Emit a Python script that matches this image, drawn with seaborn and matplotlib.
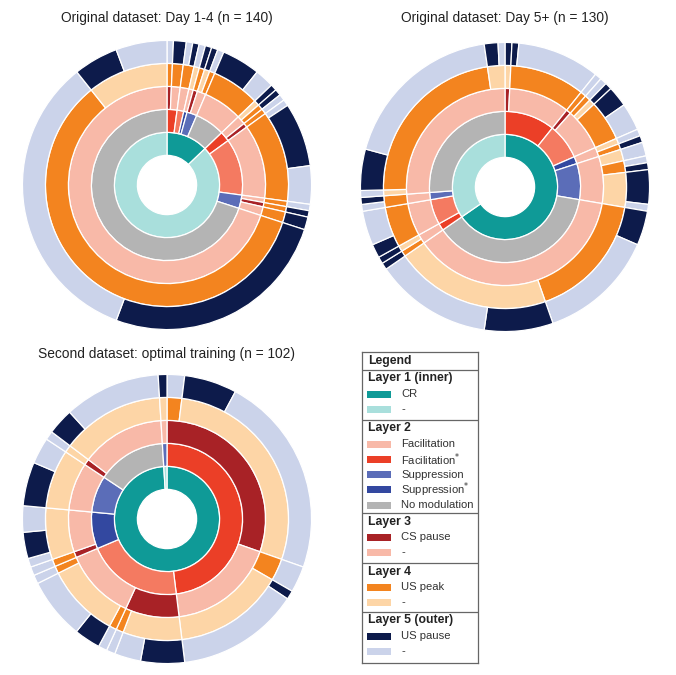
import pandas as pd
import matplotlib
matplotlib.use('Agg')
import matplotlib.pyplot as plt
import seaborn as sns

sns.set_theme(style='white')
plt.rcParams['font.family'] = ['Liberation Sans', 'DejaVu Sans']

# --- DATA: one entry per group of cells, clockwise from 12 o'clock ---
# layer 1 = CR, layer 2 = modulation, layer 3 = CS pause, layer 4 = US peak, layer 5 = US pause

# Original dataset, day 1-4 (n = 140)
d14_n     = [1, 2, 1, 1, 1, 1, 1, 1, 6, 3,
             1, 1, 1, 1, 10, 6, 1, 1, 2, 36, 47, 7, 8]
d14_cr    = ['CR'] * 10 + ['-'] * 13
d14_mod   = ['Fac*', 'Fac*', 'Fac', 'Fac', 'Sup*', 'Sup', 'Sup', 'Sup', 'None', 'None',
             'Fac*', 'Fac*', 'Fac*', 'Fac', 'Fac', 'Fac', 'Sup', 'Sup', 'Sup', 'None', 'None', 'None', 'None']
d14_cs    = ['CS', '-', '-', '-', '-', 'CS', '-', '-', '-', '-',
             '-', '-', 'CS', '-', '-', '-', '-', 'CS', '-', '-', '-', '-', '-']
d14_peak  = ['Peak', 'Peak', 'Peak', 'Peak', '-', 'Peak', '-', 'Peak', 'Peak', 'Peak',
             '-', 'Peak', 'Peak', 'Peak', 'Peak', 'Peak', 'Peak', 'Peak', 'Peak', 'Peak', 'Peak', '-', '-']
d14_pause = ['-', 'Pause', '-', 'Pause', '-', 'Pause', 'Pause', '-', 'Pause', '-',
             'Pause', 'Pause', '-', '-', 'Pause', '-', '-', 'Pause', 'Pause', 'Pause', '-', 'Pause', '-']

# Original dataset, day 5+ (n = 130)
d5_n     = [1, 1, 12, 1, 1, 1, 3, 4, 1, 1, 2, 1, 1, 5, 1, 5, 17, 10, 17,
            1, 1, 2, 5, 1, 1, 1, 6, 24, 2, 1]
d5_cr    = ['CR'] * 19 + ['-'] * 11
d5_mod   = ['Fac*', 'Fac*', 'Fac*', 'Fac', 'Fac', 'Fac', 'Fac', 'Fac', 'Sup*', 'Sup*',
            'Sup', 'Sup', 'Sup', 'Sup', 'Sup', 'None', 'None', 'None', 'None',
            'Fac*', 'Fac*', 'Fac', 'Fac', 'Sup', 'Sup', 'None', 'None', 'None', 'None', 'None']
d5_cs    = ['CS', '-', '-', 'CS'] + ['-'] * 26
d5_peak  = ['-', 'Peak', 'Peak', 'Peak', 'Peak', '-', 'Peak', 'Peak', '-', 'Peak',
            '-', 'Peak', 'Peak', '-', '-', 'Peak', 'Peak', '-', '-',
            'Peak', '-', 'Peak', 'Peak', 'Peak', 'Peak', '-', 'Peak', 'Peak', '-', '-']
d5_pause = ['Pause', 'Pause', '-', '-', '-', 'Pause', 'Pause', '-', '-', 'Pause',
            '-', '-', 'Pause', 'Pause', '-', 'Pause', '-', 'Pause', '-',
            'Pause', 'Pause', 'Pause', '-', '-', 'Pause', '-', 'Pause', '-', 'Pause', '-']

# Second dataset, optimal training (n = 102)
d2_n     = [2, 6, 23, 3, 1, 14, 5, 3, 1, 1, 3, 7, 1, 1, 1, 3, 3, 5, 3, 1, 3, 11, 1]
d2_cr    = ['CR'] * 22 + ['-']
d2_mod   = ['Fac*'] * 6 + ['Fac'] * 7 + ['Sup*'] * 4 + ['Sup'] * 2 + ['None'] * 3 + ['Sup']
d2_cs    = ['CS', 'CS', 'CS', '-', '-', '-', 'CS', 'CS', 'CS', '-', '-', '-', '-',
            'CS', '-', '-', '-', '-', '-', 'CS', '-', '-', '-']
d2_peak  = ['Peak', '-', '-', 'Peak', '-', '-', '-', '-', 'Peak', 'Peak', '-', '-', 'Peak',
            'Peak', '-', '-', '-', '-', '-', '-', '-', '-', '-']
d2_pause = ['-', 'Pause', '-', '-', 'Pause', '-', 'Pause', '-', '-', '-', 'Pause', '-', '-',
            '-', '-', 'Pause', '-', 'Pause', '-', '-', 'Pause', '-', 'Pause']

layer_cols = ['cr', 'mod', 'cs', 'peak', 'pause']
palettes = {
    'cr': {'CR': '#0f9a97', '-': '#a9dfdc'},
    'mod': {'Fac': '#f47a61', 'Fac*': '#eb3f27', 'Sup': '#5b6db8',
            'Sup*': '#3348a0', 'None': '#b4b4b4'},
    'cs': {'CS': '#a82226', '-': '#f8b9a8'},
    'peak': {'Peak': '#f3841f', '-': '#fdd5a6'},
    'pause': {'Pause': '#0d1b4b', '-': '#cbd3ea'},
}

hole = 0.205
ring_w = (1 - hole) / 5


def sunburst(ax, df):
    for i, col in enumerate(layer_cols):
        # a new ring segment starts wherever any parent layer (or this one) changes
        key = df[layer_cols[:i + 1]]
        seg_id = key.ne(key.shift()).any(axis=1).cumsum()
        seg = df.groupby(seg_id).agg(n=('n', 'sum'), cat=(col, 'first'))
        colors = [palettes[col][c] for c in seg['cat']]
        ax.pie(seg['n'], radius=hole + ring_w * (i + 1), colors=colors,
               startangle=90, counterclock=False,
               wedgeprops=dict(width=ring_w, edgecolor='white', linewidth=0.9))
    ax.set_xlim(-1.01, 1.01)
    ax.set_ylim(-1.01, 1.01)
    ax.set_aspect('equal')
    ax.axis('off')


charts = [
    ('Original dataset: Day 1-4 (n = 140)', (167, 185), 18,
     pd.DataFrame({'n': d14_n, 'cr': d14_cr, 'mod': d14_mod, 'cs': d14_cs,
                   'peak': d14_peak, 'pause': d14_pause})),
    ('Original dataset: Day 5+ (n = 130)', (505, 187), 18,
     pd.DataFrame({'n': d5_n, 'cr': d5_cr, 'mod': d5_mod, 'cs': d5_cs,
                   'peak': d5_peak, 'pause': d5_pause})),
    ('Second dataset: optimal training (n = 102)', (167, 519), 354,
     pd.DataFrame({'n': d2_n, 'cr': d2_cr, 'mod': d2_mod, 'cs': d2_cs,
                   'peak': d2_peak, 'pause': d2_pause})),
]

W, H = 676, 675
fig = plt.figure(figsize=(W / 100, H / 100), dpi=100)
R = 146
for title, (cx, cy), ty, df in charts:
    ax = fig.add_axes([(cx - R) / W, 1 - (cy + R) / H, 2 * R / W, 2 * R / H])
    sunburst(ax, df)
    fig.text(cx / W, 1 - ty / H, title, ha='center', va='center',
             fontsize=9.9, color='#222222')

# --- legend box ---
lax = fig.add_axes([362 / W, 1 - 663 / H, 116 / W, 311 / H])
lax.set_xlim(0, 116)
lax.set_ylim(311, 0)
lax.set_xticks([])
lax.set_yticks([])
for s in lax.spines.values():
    s.set_visible(True)
    s.set_color('#666666')
    s.set_linewidth(0.9)

legend_sections = [
    ('Layer 1 (inner)', [('CR', '#0f9a97'), ('-', '#a9dfdc')]),
    ('Layer 2', [('Facilitation', '#f8b9a8'), ('Facilitation*', '#eb3f27'),
                 ('Suppression', '#5b6db8'), ('Suppression*', '#3348a0'),
                 ('No modulation', '#b4b4b4')]),
    ('Layer 3', [('CS pause', '#a82226'), ('-', '#f8b9a8')]),
    ('Layer 4', [('US peak', '#f3841f'), ('-', '#fdd5a6')]),
    ('Layer 5 (outer)', [('US pause', '#0d1b4b'), ('-', '#cbd3ea')]),
]
section_tops = [18, 68, 161, 211, 260]

lax.text(6, 9, 'Legend', fontsize=8.8, fontweight='bold', va='center', color='#222222')
for (header, items), y in zip(legend_sections, section_tops):
    lax.axhline(y, color='#666666', lw=0.9)
    lax.text(6, y + 8.5, header, fontsize=8.8, fontweight='bold', va='center', color='#222222')
    for k, (label, color) in enumerate(items):
        yy = y + 24 + 15.3 * k
        lax.add_patch(plt.Rectangle((5, yy - 3.5), 24, 7, color=color, lw=0))
        lax.text(39, yy, label.replace('*', '$^{*}$'), fontsize=8.1, va='center', color='#333333')

fig.savefig('out.png', dpi=100, facecolor='white')
